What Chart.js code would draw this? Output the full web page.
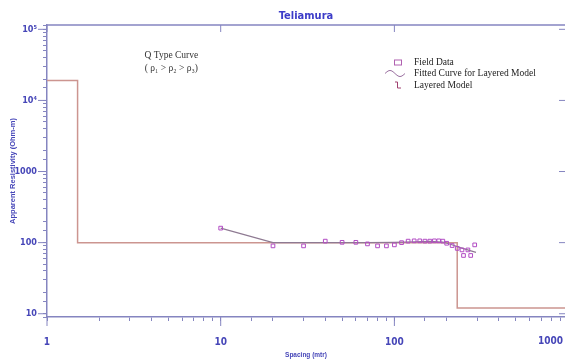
<!DOCTYPE html>
<html>
<head>
<meta charset="utf-8">
<script src="https://cdn.jsdelivr.net/npm/chart.js@4"></script>
<style>
  html, body { margin: 0; padding: 0; background: #ffffff; }
  #wrap { width: 565px; height: 361px; }
</style>
</head>
<body>
<div id="wrap"><canvas id="c" width="565" height="361"></canvas></div>
<script>
// ---- data ----
const chartTitle = 'Teliamura';
const xAxisTitle = 'Spacing (mtr)';
const yAxisTitle = 'Apparent Resistivity (Ohm-m)';
const xRange = [1, 960];
const yRange = [9, 115000];
const xTickValues = [1, 10, 100, 1000];
const xTickLabels = ['1', '10', '100', '1000'];
const yTickValues = [10, 100, 1000, 10000, 100000];
const yTickLabels = ['10', '100', '1000', '10\u2074', '10\u2075'];

// Field data (AB/2 spacing, apparent resistivity)
const fieldSpacing = [10, 20, 30, 40, 50, 60, 70, 80, 90, 100, 110, 120, 130, 140, 150, 160, 170, 180, 190, 200, 215, 230, 245, 250, 265, 275, 290];
const fieldRho     = [160, 90, 90, 105, 101, 101, 96, 90, 90, 93, 100, 105, 106, 106, 105, 105, 106, 106, 105, 98, 91, 83, 79, 66, 79, 66, 93];

// Fitted curve for layered model
const fitSpacing = [10, 20, 30, 50, 70, 100, 130, 160, 190, 210, 240, 270, 295];
const fitRho     = [160, 100, 100, 100, 100, 101, 103, 104, 102, 95, 85, 78, 73];

// Layered model (layer boundaries and resistivities)
const layerDepths = [1.5, 230];
const layerRho    = [19000, 100, 12];

const legendLabels = ['Field Data', 'Fitted Curve for Layered Model', 'Layered Model'];
const noteLines = ['Q Type Curve', '( \u03C1\u2081 > \u03C1\u2082 > \u03C1\u2083)'];

// ---- build step line from layer arrays ----
const layerPts = [];
let startX = xRange[0];
layerRho.forEach((r, i) => {
  const endX = i < layerDepths.length ? layerDepths[i] : xRange[1];
  layerPts.push({x: startX, y: r});
  layerPts.push({x: endX, y: r});
  startX = endX;
});

const fieldPts = fieldSpacing.map((x, i) => ({x, y: fieldRho[i]}));
const fitPts = fitSpacing.map((x, i) => ({x, y: fitRho[i]}));

const axisColor = '#8585c0';
const labelColor = '#4646b8';
const narrow = '"Liberation Sans Narrow", "DejaVu Sans Condensed", "Liberation Sans", sans-serif';

const extras = {
  id: 'extras',
  afterDraw(chart) {
    const {ctx, chartArea: a, scales: {x, y}} = chart;
    ctx.save();
    ctx.strokeStyle = axisColor;
    ctx.lineWidth = 1.5;
    // top border
    ctx.beginPath();
    ctx.moveTo(a.left, a.top);
    ctx.lineTo(a.right, a.top);
    ctx.stroke();
    ctx.lineWidth = 1;
    // major ticks
    xTickValues.forEach(v => {
      if (v < xRange[0] || v > xRange[1]) return;
      const px = x.getPixelForValue(v);
      ctx.beginPath();
      ctx.moveTo(px, a.bottom);
      ctx.lineTo(px, a.bottom + 9);
      ctx.moveTo(px, a.top);
      ctx.lineTo(px, a.top + 7);
      ctx.stroke();
    });
    yTickValues.forEach(v => {
      if (v < yRange[0] || v > yRange[1]) return;
      const py = y.getPixelForValue(v);
      ctx.beginPath();
      ctx.moveTo(a.left, py);
      ctx.lineTo(a.left - 9, py);
      ctx.moveTo(a.right, py);
      ctx.lineTo(a.right - 6, py);
      ctx.stroke();
    });
    // label for decade beyond the visible right edge
    ctx.fillStyle = labelColor;
    ctx.font = 'bold 10px ' + narrow;
    ctx.textBaseline = 'middle';
    xTickValues.forEach((v, i) => {
      if (v <= xRange[1]) return;
      const px = x.getPixelForValue(v);
      ctx.textAlign = 'right';
      ctx.fillText(xTickLabels[i], Math.min(px, chart.width - 2), a.bottom + 24);
    });
    // annotation
    ctx.fillStyle = '#333333';
    ctx.font = '9.5px "Liberation Serif", "Times New Roman", serif';
    ctx.textAlign = 'center';
    const nx = x.getPixelForValue(5.2);
    ctx.fillText(noteLines[0], nx, 55);
    ctx.fillText(noteLines[1], nx, 68);
    // legend
    const lx = 398, ty = [62.5, 73.5, 85];
    ctx.textAlign = 'left';
    ctx.fillStyle = '#222222';
    legendLabels.forEach((t, i) => ctx.fillText(t, 414, ty[i]));
    ctx.strokeStyle = '#b060b0';
    ctx.lineWidth = 1;
    ctx.strokeRect(lx - 3.5, ty[0] - 2.5, 7, 5);
    ctx.strokeStyle = '#9a70a0';
    ctx.beginPath();
    for (let k = 0; k <= 20; k++) {
      const px = 385 + k;
      const py = ty[1] + 3 * Math.sin((k / 20) * 2 * Math.PI + Math.PI);
      if (k === 0) ctx.moveTo(px, py); else ctx.lineTo(px, py);
    }
    ctx.stroke();
    ctx.strokeStyle = '#a04070';
    ctx.beginPath();
    ctx.moveTo(lx - 3, ty[2] - 3);
    ctx.lineTo(lx - 0.5, ty[2] - 3);
    ctx.lineTo(lx - 0.5, ty[2] + 3);
    ctx.lineTo(lx + 3, ty[2] + 3);
    ctx.stroke();
    ctx.restore();
  }
};

new Chart(document.getElementById('c'), {
  data: {
    datasets: [
      {
        type: 'line', label: legendLabels[2], data: layerPts,
        borderColor: '#cc9590', borderWidth: 1.5, pointRadius: 0, fill: false, tension: 0, order: 3
      },
      {
        type: 'line', label: legendLabels[1], data: fitPts,
        borderColor: '#8e7a92', borderWidth: 1.2, pointRadius: 0, fill: false, tension: 0, order: 2
      },
      {
        type: 'scatter', label: legendLabels[0], data: fieldPts,
        pointStyle: 'rect', pointRadius: 2.6, borderWidth: 1,
        borderColor: '#b24cc4', backgroundColor: 'rgba(0,0,0,0)', order: 1
      }
    ]
  },
  options: {
    responsive: false,
    animation: false,
    layout: { padding: 0, autoPadding: false },
    plugins: {
      legend: { display: false },
      tooltip: { enabled: false },
      title: {
        display: true, text: chartTitle, fullSize: false, color: '#3c3cc8',
        font: { family: narrow, size: 11, weight: 'bold' },
        padding: { top: 9.4, bottom: 2.4 }
      }
    },
    scales: {
      x: {
        type: 'logarithmic', position: 'bottom', min: xRange[0], max: xRange[1],
        afterFit: s => { s.height = 44; s.paddingRight = 0; s.paddingLeft = 0; },
        border: { display: true, color: axisColor, width: 1.5 },
        grid: { display: true, drawOnChartArea: false, drawTicks: true, tickLength: 4, color: axisColor },
        ticks: {
          autoSkip: false, maxRotation: 0, padding: 15, color: labelColor,
          font: { family: narrow, size: 10, weight: 'bold' },
          callback: v => { const i = xTickValues.indexOf(v); return i >= 0 ? xTickLabels[i] : ''; }
        },
        title: {
          display: true, text: xAxisTitle, color: labelColor,
          font: { family: '"Liberation Sans", sans-serif', size: 6.5, weight: 'bold' },
          padding: { top: 0, bottom: 1.5 }
        }
      },
      y: {
        type: 'logarithmic', position: 'left', min: yRange[0], max: yRange[1],
        afterFit: s => { s.width = 47; s.paddingTop = 0; s.paddingBottom = 0; },
        border: { display: true, color: axisColor, width: 1.5 },
        grid: { display: true, drawOnChartArea: false, drawTicks: true, tickLength: 4, color: axisColor },
        ticks: {
          autoSkip: false, padding: 6, color: labelColor,
          font: { family: narrow, size: 9, weight: 'bold' },
          callback: v => { const i = yTickValues.indexOf(v); return i >= 0 ? yTickLabels[i] : ''; }
        },
        title: {
          display: true, text: yAxisTitle, color: labelColor,
          font: { family: '"Liberation Sans", sans-serif', size: 7.5, weight: 'bold' },
          padding: { top: 8, bottom: 0 }
        }
      }
    }
  },
  plugins: [extras]
});
</script>
</body>
</html>
